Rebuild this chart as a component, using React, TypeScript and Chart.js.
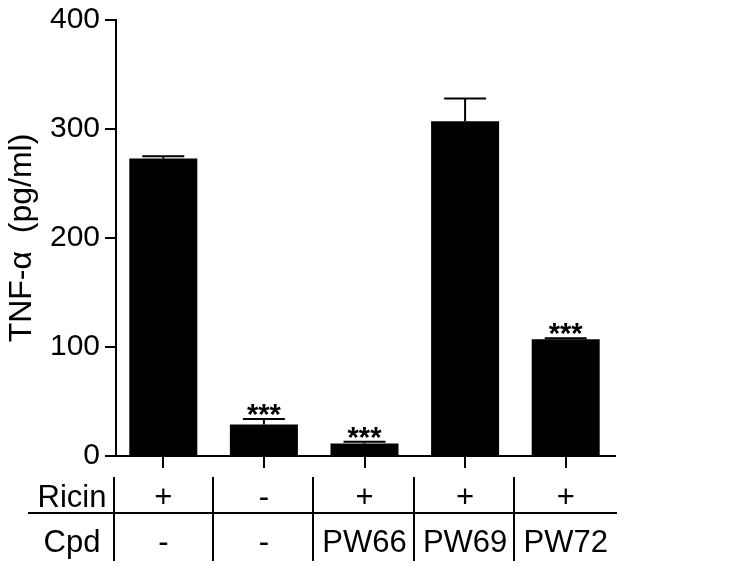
import React, { useEffect, useRef } from 'react';
import { Chart, registerables } from 'chart.js';

Chart.register(...registerables);

const categories = ['Ricin+ / Cpd-', 'Ricin- / Cpd-', 'Ricin+ / PW66', 'Ricin+ / PW69', 'Ricin+ / PW72'];
const tnfMeans = [273, 29, 11.5, 307, 107];
const tnfErrors = [2, 5, 1.5, 21, 1];
const significance = ['', '***', '***', '', '***'];
const rowHeaders = ['Ricin', 'Cpd'];
const ricinRow = ['+', '-', '+', '+', '+'];
const cpdRow = ['-', '-', 'PW66', 'PW69', 'PW72'];
const yMin = 0;
const yMax = 400;
const yStep = 100;
const yTitle = 'TNF-\u03b1  (pg/ml)';

const FONT = '"Liberation Sans", Arial, Helvetica, sans-serif';

const overlay = {
  id: 'overlay',
  afterDatasetsDraw(chart: any) {
    const ctx = chart.ctx as CanvasRenderingContext2D;
    const xs = chart.scales.x;
    const ys = chart.scales.y;
    const area = chart.chartArea;
    const meta = chart.getDatasetMeta(0);
    ctx.save();
    ctx.strokeStyle = '#000';
    ctx.fillStyle = '#000';
    ctx.lineWidth = 2;

    // error bars + significance
    meta.data.forEach((bar: any, i: number) => {
      const base = ys.getPixelForValue(tnfMeans[i]);
      const top = ys.getPixelForValue(tnfMeans[i] + tnfErrors[i]);
      ctx.beginPath();
      ctx.moveTo(bar.x, base);
      ctx.lineTo(bar.x, top);
      ctx.moveTo(bar.x - 21, top);
      ctx.lineTo(bar.x + 21, top);
      ctx.stroke();
      if (significance[i]) {
        ctx.font = `bold 29px ${FONT}`;
        ctx.textAlign = 'center';
        ctx.textBaseline = 'alphabetic';
        ctx.fillText(significance[i], bar.x, top + 5);
      }
    });

    // axes
    const axX = area.left + 3;
    ctx.beginPath();
    ctx.moveTo(axX, area.top - 1);
    ctx.lineTo(axX, area.bottom + 1);
    ctx.moveTo(axX, area.bottom);
    ctx.lineTo(area.right, area.bottom);
    ys.ticks.forEach((t: any) => {
      const py = Math.round(ys.getPixelForValue(t.value));
      ctx.moveTo(axX - 11, py);
      ctx.lineTo(axX, py);
    });
    categories.forEach((_, i) => {
      const px = Math.round(xs.getPixelForValue(i));
      ctx.moveTo(px, area.bottom);
      ctx.lineTo(px, area.bottom + 12);
    });
    ctx.stroke();

    // table below
    const n = categories.length;
    const colW = area.width / n;
    ctx.beginPath();
    ctx.moveTo(28, area.bottom + 57);
    ctx.lineTo(area.right + 1, area.bottom + 57);
    for (let i = 0; i < n; i++) {
      const bx = Math.round(area.left + 1 + i * colW - (i > 0 ? 2 : 0));
      ctx.moveTo(bx, area.bottom + 21);
      ctx.lineTo(bx, area.bottom + 105);
    }
    ctx.stroke();

    ctx.font = `31px ${FONT}`;
    ctx.textAlign = 'center';
    ctx.textBaseline = 'alphabetic';
    const row1Y = area.bottom + 51;
    const row2Y = area.bottom + 96;
    ctx.fillText(rowHeaders[0], 72, row1Y);
    ctx.fillText(rowHeaders[1], 72, row2Y);
    for (let i = 0; i < n; i++) {
      const px = xs.getPixelForValue(i);
      ctx.fillText(ricinRow[i], px, row1Y);
      ctx.fillText(cpdRow[i], px, row2Y);
    }
    ctx.restore();
  },
};

export default function App() {
  const ref = useRef<HTMLCanvasElement | null>(null);
  useEffect(() => {
    document.body.style.margin = '0';
    const canvas = ref.current!;
    const chart = new Chart(canvas, {
      type: 'bar',
      data: {
        labels: categories,
        datasets: [
          {
            data: tnfMeans,
            backgroundColor: '#000',
            borderWidth: 0,
            barPercentage: 0.676,
            categoryPercentage: 1,
          },
        ],
      },
      options: {
        animation: false,
        responsive: false,
        devicePixelRatio: 1,
        layout: { padding: { left: 0, top: 20, right: 116, bottom: 113 } },
        plugins: { legend: { display: false }, tooltip: { enabled: false } },
        scales: {
          x: { display: false },
          y: {
            min: yMin,
            max: yMax,
            ticks: { stepSize: yStep, color: '#000', font: { family: FONT, size: 30 }, padding: 0 },
            grid: { display: false, drawTicks: true, tickLength: 13 },
            border: { display: false },
            title: {
              display: true,
              text: yTitle,
              color: '#000',
              font: { family: FONT, size: 32 },
              padding: { top: 3, bottom: 0 },
            },
            afterFit: (s: any) => {
              s.width = 113;
            },
          },
        },
      } as any,
      plugins: [overlay],
    });
    return () => chart.destroy();
  }, []);
  return <canvas ref={ref} width={732} height={569} style={{ display: 'block' }} />;
}
